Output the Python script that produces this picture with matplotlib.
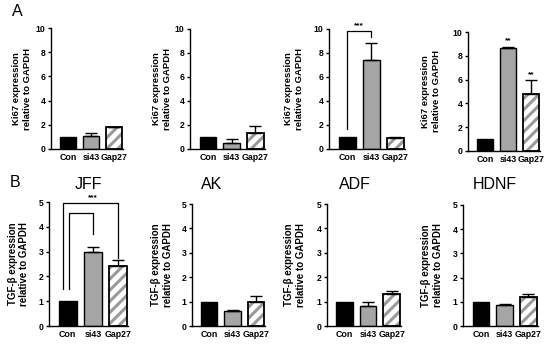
import matplotlib
matplotlib.use("Agg")
import matplotlib.pyplot as plt

plt.rcParams['font.family'] = ['Liberation Sans', 'DejaVu Sans']
plt.rcParams['hatch.linewidth'] = 2.2

categories = ["Con", "si43", "Gap27"]
titles_bottom = ["JFF", "AK", "ADF", "HDNF"]

# Top row: Ki67
ki67_vals = [[1.0, 1.1, 1.8], [1.0, 0.5, 1.35], [1.0, 7.45, 0.95], [1.0, 8.65, 4.8]]
ki67_err = [[0.0, 0.2, 0.05], [0.0, 0.35, 0.55], [0.0, 1.4, 0.03], [0.0, 0.12, 1.2]]
# Bottom row: TGF-beta
tgf_vals = [[1.0, 3.0, 2.4], [1.0, 0.6, 1.0], [1.0, 0.82, 1.3], [1.0, 0.85, 1.2]]
tgf_err = [[0.0, 0.2, 0.25], [0.0, 0.07, 0.25], [0.0, 0.17, 0.12], [0.0, 0.07, 0.13]]

top_pos = [(51, 28, 123, 149), (190, 29, 265, 149), (329, 29, 405, 149), (468, 32, 540, 151)]
bot_pos = [(49, 202, 128, 326), (192, 204, 265, 326), (327, 204, 401, 326), (463, 205, 538, 326)]
top_label_x = [22, 162, 294, 431]
bot_label_x = [18.5, 162, 295, 432]
title_xy = [(88, 185), (212, 185), (355, 185), (495, 185)]

W, H = 550, 344
fig = plt.figure(figsize=(5.5, 3.44), dpi=100)

def frac(p):
    l, t, r, b = p
    return [l / W, 1 - b / H, (r - l) / W, (b - t) / H]

def draw(ax, vals, errs, ymax, ystep):
    x = range(len(categories))
    colors = ["black", "#a5a5a5", "white"]
    for i in x:
        if i == 2:
            ax.bar(i, vals[i], width=0.7, color="white", edgecolor="#9a9a9a",
                   hatch="///", linewidth=0, zorder=2)
            ax.bar(i, vals[i], width=0.7, color="none", edgecolor="black",
                   linewidth=1.3, zorder=3)
        else:
            ax.bar(i, vals[i], width=0.7, color=colors[i], edgecolor="black",
                   linewidth=1.0, zorder=2)
        if errs[i] > 0:
            ax.errorbar(i, vals[i], yerr=[[0], [errs[i]]], fmt="none",
                        ecolor="black", elinewidth=1.0, capsize=4, capthick=1.0, zorder=4)
    ax.set_xlim(-0.75, 2.4)
    ax.set_ylim(0, ymax)
    ax.set_yticks([v * ystep for v in range(int(ymax / ystep) + 1)])
    ax.set_xticks(list(x))
    ax.set_xticklabels(categories, fontsize=6.4, fontweight="bold")
    for lab in ax.get_yticklabels():
        lab.set_fontsize(6.2)
        lab.set_fontweight("bold")
    ax.tick_params(axis="x", length=0, pad=3)
    ax.tick_params(axis="y", length=2.5, width=1.0, pad=1.5)
    ax.spines["top"].set_visible(False)
    ax.spines["right"].set_visible(False)
    ax.spines["left"].set_linewidth(1.0)
    ax.spines["bottom"].set_linewidth(1.0)

axes_top = []
for k in range(4):
    ax = fig.add_axes(frac(top_pos[k]))
    draw(ax, ki67_vals[k], ki67_err[k], 10, 2)
    l, t, r, b = top_pos[k]
    fig.text(top_label_x[k] / W, 1 - (t + b) / 2 / H, "Ki67 expression\nrelative to GAPDH",
             rotation=90, ha="center", va="center", fontsize=6.8, fontweight="bold",
             linespacing=1.15)
    axes_top.append(ax)

axes_bot = []
for k in range(4):
    ax = fig.add_axes(frac(bot_pos[k]))
    draw(ax, tgf_vals[k], tgf_err[k], 5, 1)
    l, t, r, b = bot_pos[k]
    fig.text(bot_label_x[k] / W, 1 - (t + b) / 2 / H, "TGF-β expression\nrelative to GAPDH",
             rotation=90, ha="center", va="center", fontsize=7.0, fontweight="bold",
             linespacing=1.15)
    fig.text(title_xy[k][0] / W, 1 - title_xy[k][1] / H, titles_bottom[k],
             fontsize=11.5, ha="center", va="center")
    axes_bot.append(ax)

# significance panel 3 (top)
ax = axes_top[2]
ax.plot([0, 0, 1, 1], [1.7, 9.8, 9.8, 9.3], color="black", lw=0.9, clip_on=False)
ax.text(0.5, 9.95, "***", ha="center", va="bottom", fontsize=6, fontweight="bold")

# significance panel 4 (top)
ax = axes_top[3]
ax.text(1, 8.95, "**", ha="center", va="bottom", fontsize=6, fontweight="bold")
ax.text(2, 6.15, "**", ha="center", va="bottom", fontsize=6, fontweight="bold")

# significance JFF
ax = axes_bot[0]
ax.plot([-0.2, -0.2, 2, 2], [1.5, 4.97, 4.97, 2.75], color="black", lw=0.9, clip_on=False)
ax.plot([0.05, 0.05, 1, 1], [1.5, 4.57, 4.57, 3.72], color="black", lw=0.9, clip_on=False)
ax.text(1, 5.05, "***", ha="center", va="bottom", fontsize=6, fontweight="bold")

fig.text(17 / W, 1 - 12 / H, "A", fontsize=11.5, ha="center", va="center")
fig.text(15 / W, 1 - 182 / H, "B", fontsize=11.5, ha="center", va="center")

fig.savefig("out.png", dpi=100)
